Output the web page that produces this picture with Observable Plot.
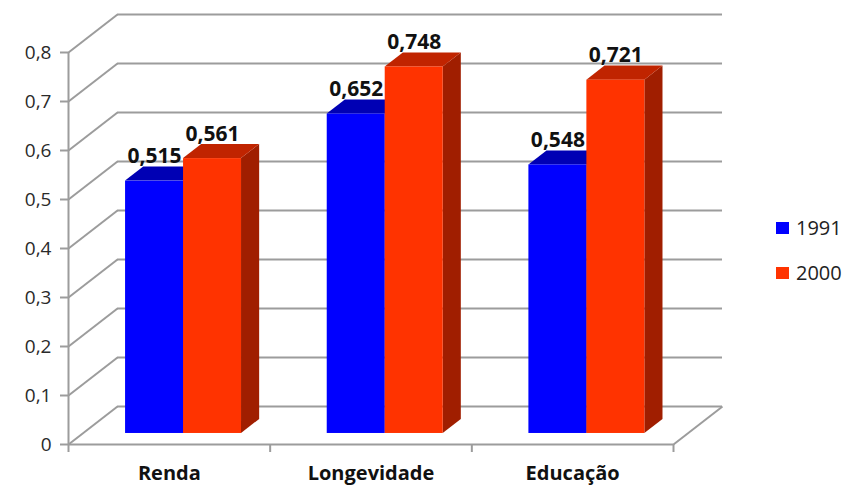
<!DOCTYPE html>
<html>
<head>
<meta charset="utf-8">
<script src="https://cdn.jsdelivr.net/npm/d3@7"></script>
<script src="https://cdn.jsdelivr.net/npm/@observablehq/plot@0.6"></script>
<style>
  html, body { margin: 0; padding: 0; background: #fff; }
  #wrap { position: relative; width: 847px; height: 486px; font-family: "Open Sans", sans-serif; }
  .legend { position: absolute; left: 776px; font-size: 20px; color: #222; display: flex; align-items: center; }
  .legend .sw { width: 13px; height: 12px; margin-right: 7px; }
</style>
</head>
<body>
<div id="wrap"></div>
<script>
// IDH components for 1991 and 2000
const categories = ["Renda", "Longevidade", "Educação"];
const years = ["1991", "2000"];
const idh1991 = [0.515, 0.652, 0.548];
const idh2000 = [0.561, 0.748, 0.721];
const yTicks = [0, 0.1, 0.2, 0.3, 0.4, 0.5, 0.6, 0.7, 0.8];
const yTickLabels = ["0", "0,1", "0,2", "0,3", "0,4", "0,5", "0,6", "0,7", "0,8"];

// Face colours of each series (front, top, side)
const faces = {
  "1991": {front: "#0000ff", top: "#0000b4", side: "#00009a"},
  "2000": {front: "#ff3300", top: "#c02400", side: "#a01e00"}
};

// Oblique projection: a full depth step moves right and up in data units
const OX = 0.243;   // category units per full depth
const OY = 0.0776;  // value units per full depth
const zf = 0.29, zb = 0.66;   // front and back depth of the bars
const barW = 0.2875;          // width of one bar in category units
const gridColor = "#9c9c9c";

const seriesValues = [idh1991, idh2000];
const bars = [];
years.forEach((year, j) => {
  categories.forEach((cat, i) => {
    const x0 = i + 0.5 - barW + j * barW;
    bars.push({id: `${cat}-${year}`, year, cat, x0, x1: x0 + barW, value: seriesValues[j][i]});
  });
});

const fmt = v => v.toFixed(3).replace(".", ",");

function barMarks(year) {
  const rows = bars.filter(d => d.year === year);
  const side = rows.flatMap(d => [
    {id: d.id, x: d.x1 + zf * OX, y1: zf * OY, y2: d.value + zf * OY},
    {id: d.id, x: d.x1 + zb * OX, y1: zb * OY, y2: d.value + zb * OY}
  ]);
  const top = rows.flatMap(d => [
    {id: d.id, y: d.value + zf * OY, x1: d.x0 + zf * OX, x2: d.x1 + zf * OX},
    {id: d.id, y: d.value + zb * OY, x1: d.x0 + zb * OX, x2: d.x1 + zb * OX}
  ]);
  const c = faces[year];
  return [
    Plot.areaY(side, {x: "x", y1: "y1", y2: "y2", z: "id", fill: c.side}),
    Plot.areaX(top, {y: "y", x1: "x1", x2: "x2", z: "id", fill: c.top}),
    Plot.rect(rows, {
      x1: d => d.x0 + zf * OX, x2: d => d.x1 + zf * OX,
      y1: zf * OY, y2: d => d.value + zf * OY,
      fill: c.front
    })
  ];
}

const chart = Plot.plot({
  width: 847,
  height: 486,
  marginLeft: 68,
  marginRight: 174,
  marginTop: 52,
  marginBottom: 42,
  style: {fontFamily: "Open Sans, sans-serif", background: "white"},
  x: {type: "linear", domain: [0, categories.length]},
  y: {domain: [0, 0.8]},
  marks: [
    // back wall gridlines
    Plot.ruleY(yTicks, {y: d => d + OY, x1: OX, x2: categories.length + OX, stroke: gridColor, strokeWidth: 2}),
    // side wall diagonals
    Plot.link(yTicks, {x1: 0, y1: d => d, x2: OX, y2: d => d + OY, stroke: gridColor, strokeWidth: 2}),
    // floor right edge
    Plot.link([categories.length], {x1: d => d, y1: 0, x2: d => d + OX, y2: OY, stroke: gridColor, strokeWidth: 2}),
    // front axes
    Plot.ruleX([0], {y1: 0, y2: 0.8, stroke: gridColor, strokeWidth: 2}),
    Plot.ruleY([0], {x1: 0, x2: categories.length, stroke: gridColor, strokeWidth: 2}),
    Plot.axisY({
      ticks: yTicks, tickFormat: (d, i) => yTickLabels[i],
      tickSize: 8, tickPadding: 9, fontSize: 19,
      stroke: gridColor, strokeWidth: 2, fill: "#2a2a2a"
    }),
    Plot.axisX({
      ticks: d3.range(categories.length + 1), tickFormat: () => "",
      tickSize: 8, stroke: gridColor, strokeWidth: 2
    }),
    // bars
    ...barMarks("1991"),
    ...barMarks("2000"),
    // value labels
    Plot.text(bars, {
      x: d => (d.x0 + d.x1) / 2 + zf * OX,
      y: d => d.value + zb * OY,
      text: d => fmt(d.value),
      lineAnchor: "bottom", dy: -4,
      fontSize: 21, fontWeight: "bold", fill: "#111"
    }),
    // category labels
    Plot.text(categories, {
      x: (d, i) => i + 0.5, y: 0, text: d => d,
      lineAnchor: "middle", dy: 29,
      fontSize: 20, fontWeight: "bold", fill: "#111"
    })
  ]
});

const wrap = document.getElementById("wrap");
wrap.appendChild(chart);

// legend
const legendTops = [214, 259];
years.forEach((year, j) => {
  const item = document.createElement("div");
  item.className = "legend";
  item.style.top = legendTops[j] + "px";
  const sw = document.createElement("div");
  sw.className = "sw";
  sw.style.background = faces[year].front;
  const label = document.createElement("span");
  label.textContent = year;
  item.appendChild(sw);
  item.appendChild(label);
  wrap.appendChild(item);
});
</script>
</body>
</html>
